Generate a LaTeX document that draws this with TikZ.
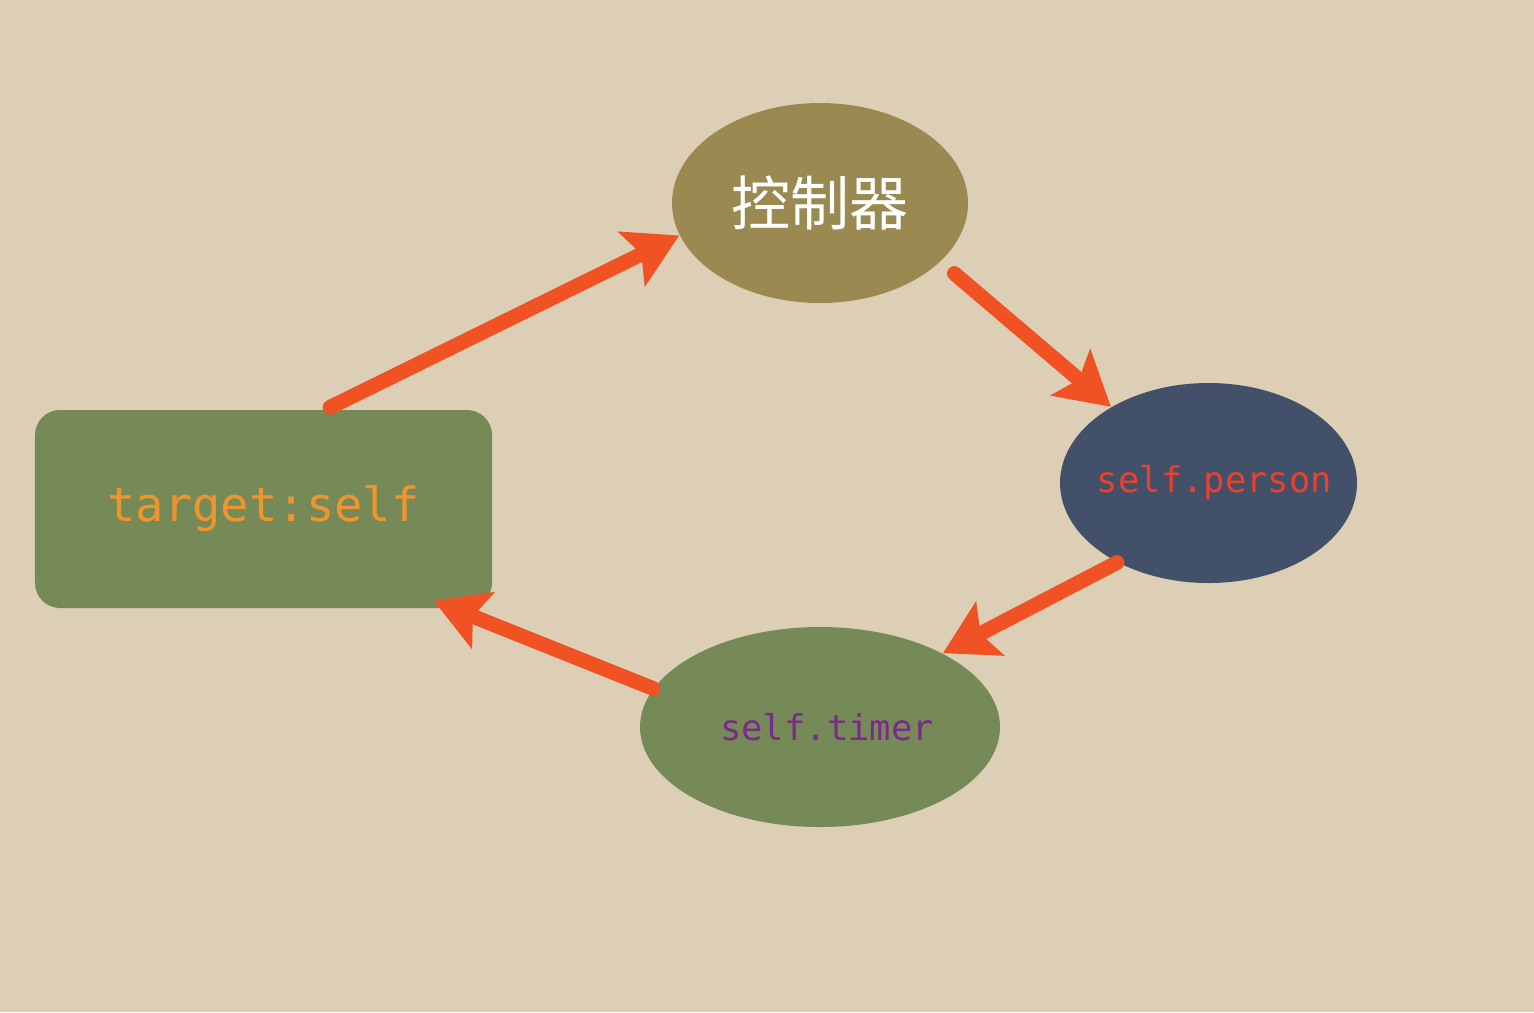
\documentclass[tikz,border=0pt]{standalone}
\usepackage{fontspec}
\setmonofont{DejaVu Sans Mono}
\newfontfamily\cjkfont{Noto Sans CJK SC}
\usepackage{tikz}
\usetikzlibrary{arrows.meta,positioning,shapes.geometric,calc}
\definecolor{parchment}{HTML}{DCCFB6}
\definecolor{olivebg}{HTML}{9A8A52}
\definecolor{slatebg}{HTML}{435069}
\definecolor{grnbg}{HTML}{758A57}
\definecolor{arrowred}{HTML}{F05224}
\definecolor{persred}{HTML}{E8412C}
\definecolor{timerpurple}{HTML}{7A2B8A}
\definecolor{tgtorange}{HTML}{F0952E}
\tikzset{
  blob/.style={ellipse,inner sep=0pt,minimum height=2cm,align=center},
  ctrlblob/.style={blob,fill=olivebg,minimum width=2.96cm,text=white,
                   font=\cjkfont\fontsize{16.8pt}{20pt}\selectfont},
  persblob/.style={blob,fill=slatebg,minimum width=2.97cm,text=persred,
                   font=\ttfamily\fontsize{10.1pt}{12pt}\selectfont},
  timerblob/.style={blob,fill=grnbg,minimum width=3.6cm,text=timerpurple,
                    font=\ttfamily\fontsize{10.1pt}{12pt}\selectfont},
  tgtbox/.style={fill=grnbg,rounded corners=0.25cm,minimum width=4.57cm,
                 minimum height=1.98cm,inner sep=0pt,text=tgtorange,
                 font=\ttfamily\fontsize{13.4pt}{16pt}\selectfont},
  flow/.style={-{Stealth[length=15pt,width=17pt,inset=3pt]},line width=4.2pt,
               draw=arrowred,line cap=round}
}
\begin{document}
\begin{tikzpicture}[x=1cm,y=1cm]
    \fill[parchment] (0,0) rectangle (15.34,10.12);
    \useasboundingbox (0,0) rectangle (15.34,10.12);
    % nodes
    \node[ctrlblob] (ctrl) at (8.20,8.09) {控制器};
    \node[persblob] (pers) at (12.085,5.29) {\makebox[0pt]{\hspace{0.12cm}self.person}};
    \node[timerblob] (timer) at (8.20,2.85) {\makebox[0pt]{\hspace{0.14cm}self.timer}};
    \node[tgtbox] (tgt) at (2.635,5.03) {target:self};
    % connectors
    \draw[flow] ($(tgt.north)+(0.665,0.02)$) -- (ctrl.193);
    \draw[flow,shorten <=0.18cm] (ctrl.334) -- (pers.142);
    \draw[flow] (pers.221) -- (timer.31);
    \draw[flow] (timer.167) -- ($(tgt.south east)+(-0.59,0.08)$);
  \end{tikzpicture}
\end{document}
